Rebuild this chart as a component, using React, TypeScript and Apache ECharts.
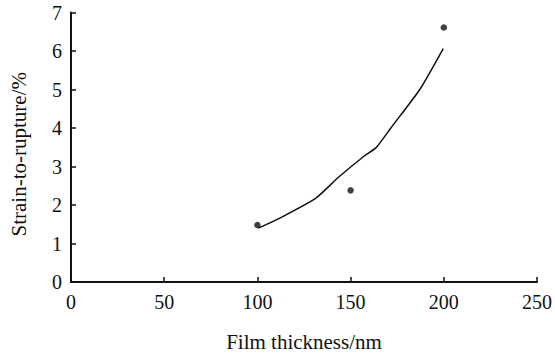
import React, { useEffect, useRef } from "react";
import * as echarts from "echarts";

const xTicks = [0, 50, 100, 150, 200, 250];
const yTicks = [0, 1, 2, 3, 4, 5, 6, 7];
const measuredX = [100, 150, 200];
const measuredY = [1.48, 2.38, 6.61];
const fitX = [100.4, 113.6, 131.2, 143.5, 157.5, 163.7, 171.6, 187.4, 199.7];
const fitY = [1.4, 1.7, 2.17, 2.72, 3.28, 3.49, 4.0, 5.02, 6.06];

const FONT = "'Liberation Serif', 'Times New Roman', Times, serif";

export default function App() {
  const ref = useRef<HTMLDivElement>(null);
  useEffect(() => {
    if (!ref.current) return;
    const chart = echarts.init(ref.current, null, { renderer: "svg" });
    chart.setOption({
      animation: false,
      backgroundColor: "#ffffff",
      textStyle: { fontFamily: FONT },
      grid: { left: 68, right: 13, top: 12.5, bottom: 70.5 },
      xAxis: {
        type: "value",
        min: xTicks[0],
        max: xTicks[xTicks.length - 1],
        interval: 50,
        name: "Film thickness/nm",
        nameLocation: "middle",
        nameGap: 49,
        nameTextStyle: { fontFamily: FONT, fontSize: 21, color: "#111" },
        axisLine: { lineStyle: { color: "#111", width: 2 } },
        axisTick: { inside: true, length: 5, lineStyle: { color: "#111", width: 1.5 } },
        axisLabel: { fontFamily: FONT, fontSize: 20, color: "#111", margin: 10 },
        splitLine: { show: false },
      },
      yAxis: {
        type: "value",
        min: yTicks[0],
        max: yTicks[yTicks.length - 1],
        interval: 1,
        name: "Strain-to-rupture/%",
        nameLocation: "middle",
        nameGap: 42,
        nameTextStyle: { fontFamily: FONT, fontSize: 21, color: "#111", padding: [0, 14, 0, 0] },
        axisLine: { show: true, lineStyle: { color: "#111", width: 2 } },
        axisTick: { show: true, inside: true, length: 5, lineStyle: { color: "#111", width: 1.5 } },
        axisLabel: { fontFamily: FONT, fontSize: 20, color: "#111", margin: 9 },
        splitLine: { show: false },
      },
      series: [
        {
          type: "line",
          data: fitX.map((x, i) => [x, fitY[i]]),
          showSymbol: false,
          smooth: 0.2,
          lineStyle: { color: "#111", width: 1.5 },
        },
        {
          type: "scatter",
          data: measuredX.map((x, i) => [x, measuredY[i]]),
          symbol: "circle",
          symbolSize: 6.5,
          itemStyle: { color: "#111" },
        },
      ],
    });
    return () => chart.dispose();
  }, []);
  return <div ref={ref} style={{ width: 555, height: 357, position: "absolute", left: 0, top: 0 }} />;
}
